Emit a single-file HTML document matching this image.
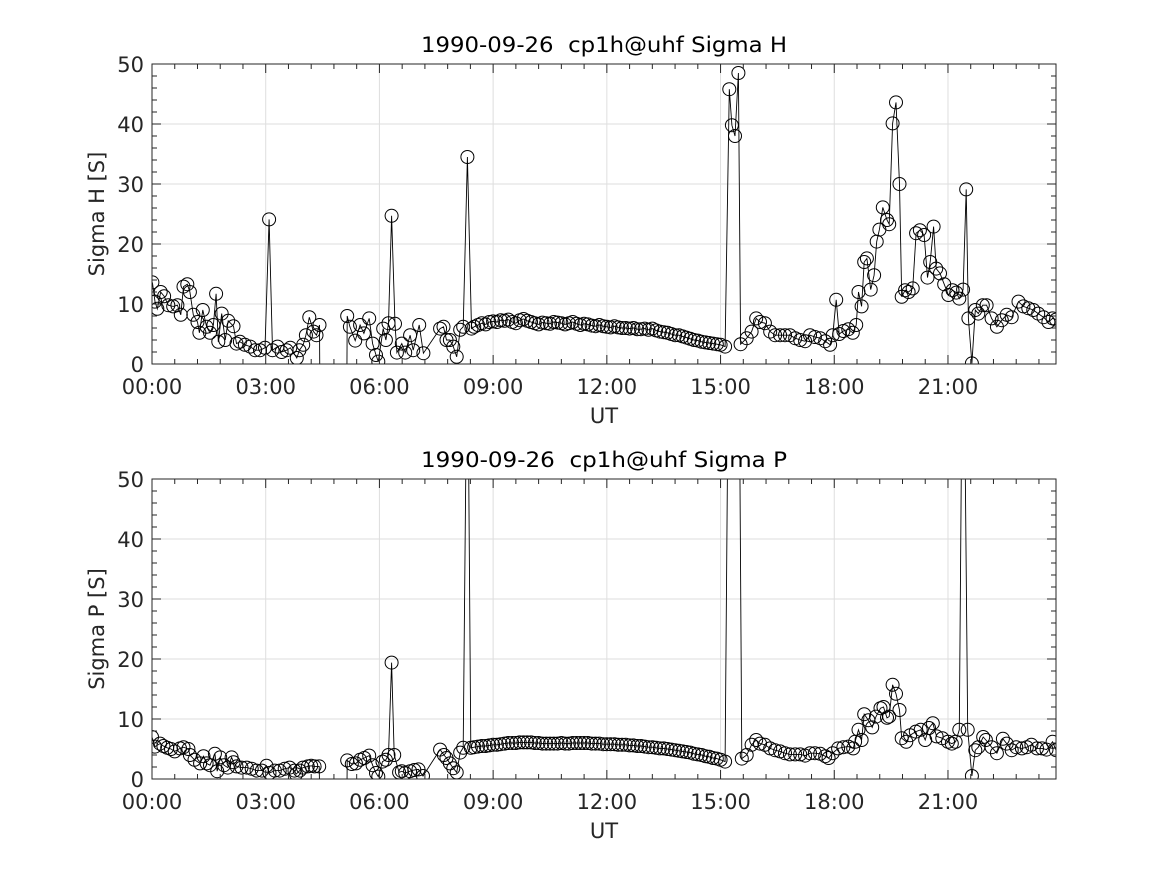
<!DOCTYPE html>
<html><head><meta charset="utf-8"><title>Sigma H / Sigma P</title>
<style>
html,body{margin:0;padding:0;background:#fff;}
svg{display:block;font-family:"DejaVu Sans","Liberation Sans",sans-serif;}
</style></head>
<body>
<svg id="fig" width="1167" height="875" viewBox="0 0 1167 875"></svg>
<script>
// ---- data ----
const hTimes = [0.01,0.08,0.14,0.23,0.32,0.43,0.56,0.67,0.76,0.83,0.93,1.0,1.09,1.2,1.25,1.34,1.44,1.53,1.62,1.69,1.75,1.84,1.93,2.01,2.15,2.23,2.32,2.45,2.59,2.72,2.85,2.98,3.09,3.18,3.31,3.42,3.55,3.65,3.82,3.89,3.99,4.06,4.15,4.26,4.34,4.42,4.43,null,5.14,5.15,5.22,5.36,5.49,5.59,5.73,5.82,5.91,5.97,6.1,6.17,6.24,6.32,6.41,6.46,6.59,6.68,6.81,6.89,7.05,7.16,7.6,7.69,7.77,7.86,7.95,8.04,8.13,8.21,8.32,8.43,8.5,8.6,8.7,8.8,8.9,9.0,9.1,9.2,9.3,9.4,9.5,9.6,9.7,9.8,9.9,10.0,10.1,10.2,10.3,10.4,10.5,10.6,10.7,10.8,10.9,11.0,11.1,11.2,11.3,11.4,11.5,11.6,11.7,11.8,11.9,12.0,12.1,12.2,12.3,12.4,12.5,12.6,12.7,12.8,12.9,13.0,13.1,13.2,13.3,13.4,13.5,13.6,13.7,13.8,13.9,14.0,14.1,14.2,14.3,14.4,14.5,14.6,14.7,14.8,14.9,15.0,15.12,15.23,15.3,15.38,15.47,15.53,15.69,15.82,15.94,16.04,16.17,16.31,16.44,16.57,16.7,16.83,16.97,17.1,17.23,17.36,17.49,17.63,17.76,17.89,17.96,18.05,18.13,18.24,18.37,18.49,18.58,18.64,18.72,18.79,18.86,18.96,19.05,19.12,19.19,19.28,19.39,19.45,19.54,19.63,19.72,19.78,19.87,19.96,20.07,20.16,20.26,20.37,20.46,20.53,20.62,20.69,20.79,20.9,21.01,21.12,21.22,21.3,21.4,21.48,21.54,21.63,21.72,21.8,21.92,22.02,22.15,22.29,22.42,22.55,22.68,22.86,22.99,23.12,23.25,23.38,23.52,23.65,23.76,23.85];
const sigmaH = [13.6,10.4,9.2,12,11.3,9.8,9.6,9.8,8.2,12.9,13.3,12,8.2,7,5.2,9,6.2,5.2,6.5,11.7,3.7,8.4,4,7.2,6.3,3.4,3.7,3.2,2.9,2.3,2.3,2.7,24.1,2.3,2.9,2,2.3,2.7,1,2.3,3.2,4.8,7.8,5.4,4.8,6.5,-5,null,-5,8,6.2,3.9,6.5,5.1,7.6,3.4,1.5,0.4,5.9,4,6.8,24.7,6.7,1.9,3.4,1.9,4.8,2.3,6.5,1.8,5.9,6.2,4,4,2.9,1.2,5.7,6.2,34.5,5.9,6.2,6.5,6.8,6.6,7,7.1,7,7.3,7.2,7.4,7,6.8,7.3,7.5,7.2,7,6.8,6.6,6.9,6.8,6.7,7,6.9,6.8,6.6,6.8,7,6.7,6.5,6.7,6.6,6.4,6.3,6.5,6.3,6.2,6.1,6.3,6.1,6,6,5.9,6,5.8,5.8,5.9,5.7,5.9,5.6,5.4,5.3,5.2,5,4.8,4.8,4.6,4.4,4.2,4,3.9,3.7,3.6,3.5,3.4,3.3,3.2,2.9,45.8,39.8,38,48.5,3.3,4.3,5.4,7.6,7,6.8,5.4,4.8,4.8,4.8,4.8,4.3,4,3.8,4.8,4.5,4.3,3.8,3.2,4.8,10.7,5,5.5,5.8,5.2,6.5,12,9.6,17,17.6,12.4,14.8,20.4,22.4,26.1,24,23.3,40.1,43.6,30,11.2,12.3,12,12.6,21.8,22.3,21.5,14.4,17,22.9,15.9,15.1,13.3,11.5,12.3,11.9,10.9,12.4,29.1,7.6,0.1,9,8.4,9.8,9.8,7.6,6.2,7.3,8.2,7.8,10.4,9.6,9.3,9,8.4,7.8,7,7.6,7.4];
const pTimes = [0,0.08,0.21,0.3,0.4,0.5,0.6,0.74,0.83,0.96,1.0,1.12,1.27,1.36,1.44,1.53,1.66,1.72,1.8,1.9,2.0,2.1,2.15,2.23,2.36,2.5,2.63,2.76,2.9,3.02,3.1,3.24,3.37,3.5,3.63,3.76,3.8,3.9,3.98,4.11,4.2,4.29,4.41,4.43,null,5.14,5.15,5.27,5.38,5.49,5.6,5.73,5.82,5.91,5.97,6.08,6.17,6.24,6.32,6.39,6.52,6.59,6.68,6.81,6.92,7.03,7.15,7.6,7.7,7.77,7.86,7.95,8.04,8.13,8.21,8.32,8.41,8.5,8.6,8.7,8.8,8.9,9.0,9.1,9.2,9.3,9.4,9.5,9.6,9.7,9.8,9.9,10.0,10.1,10.2,10.3,10.4,10.5,10.6,10.7,10.8,10.9,11.0,11.1,11.2,11.3,11.4,11.5,11.6,11.7,11.8,11.9,12.0,12.1,12.2,12.3,12.4,12.5,12.6,12.7,12.8,12.9,13.0,13.1,13.2,13.3,13.4,13.5,13.6,13.7,13.8,13.9,14.0,14.1,14.2,14.3,14.4,14.5,14.6,14.7,14.8,14.9,15.0,15.12,15.23,15.3,15.38,15.47,15.56,15.69,15.82,15.94,16.04,16.17,16.31,16.44,16.57,16.7,16.83,16.97,17.1,17.23,17.36,17.49,17.63,17.76,17.85,17.96,18.1,18.24,18.37,18.5,18.55,18.64,18.72,18.79,18.9,19.0,19.1,19.22,19.3,19.39,19.45,19.54,19.63,19.72,19.78,19.9,20.0,20.15,20.28,20.4,20.5,20.6,20.7,20.85,21.0,21.1,21.2,21.3,21.4,21.52,21.63,21.72,21.8,21.93,22.0,22.15,22.29,22.45,22.55,22.68,22.8,22.95,23.08,23.2,23.35,23.48,23.6,23.76,23.85];
const sigmaP = [7,5.4,5.9,5.5,5.2,5,4.6,5.1,5.3,5,4,3.2,2.6,3.8,2.6,2.3,4.2,1.3,3.6,2.3,1.9,3.6,2.8,2.1,1.9,1.9,1.7,1.4,1.4,2.2,1,1.4,1.4,1.7,1.9,1.4,0.8,1.4,1.9,2.1,2.2,2.1,2.1,-5,null,-5,3.1,2.5,2.6,3.2,3.5,3.9,2.3,1,0.4,2.9,3.2,4,19.4,4,1.1,1.3,1,1.3,1.5,1.6,0.5,4.9,4,3.5,2.6,1.8,1.1,4.4,5.2,80,5.2,5.3,5.4,5.5,5.5,5.6,5.7,5.7,5.8,5.9,6.0,6.0,6.0,6.1,6.1,6.1,6.1,6.0,6.0,5.9,5.9,5.9,5.9,5.9,6.0,5.9,5.9,6.0,6.0,6.0,6.0,6.0,5.9,5.9,5.9,5.8,5.8,5.8,5.8,5.7,5.7,5.7,5.6,5.6,5.5,5.5,5.4,5.3,5.3,5.2,5.1,5.1,5.0,4.9,4.8,4.7,4.6,4.5,4.4,4.2,4.1,4.0,3.8,3.7,3.5,3.4,3.2,2.9,90,80,80,90,3.4,4,5.7,6.5,5.9,5.7,5.1,4.8,4.6,4.3,4.1,4.1,4.1,3.9,4.3,4.3,4.2,3.8,3.5,4.3,5.1,5.3,5.4,5.1,6.2,8.2,6.5,10.8,9.8,8.6,10.4,11.8,12,10.2,10.4,15.7,14.2,11.5,6.8,6.2,7.3,7.9,8.2,6.5,8.5,9.3,7.1,6.8,6.2,5.9,6.2,8.2,90,8.2,0.5,4.8,5.3,7,6.5,5.3,4.3,6.7,5.9,4.8,5.3,5.1,5.3,5.7,5.1,5.1,4.9,6.2,4.8];
const xTickLabels = ["00:00","03:00","06:00","09:00","12:00","15:00","18:00","21:00"];
const yTickLabels = ["0","10","20","30","40","50"];

// ---- layout ----
const NS="http://www.w3.org/2000/svg";
const svg=document.getElementById('fig');
const X0=152, X1=1056, TMAX=23.85;
const FS=21;
function xs(h){return X0+(h/TMAX)*(X1-X0);}
function mk(tag,attrs,parent){const e=document.createElementNS(NS,tag);for(const k in attrs)e.setAttribute(k,attrs[k]);(parent||svg).appendChild(e);return e;}

function panel(id,top,bottom,times,vals,title,ylabel){
  const g=mk('g',{});
  
  
  const ys=v=>bottom-(v/50)*(bottom-top);
  for(let i=0;i<xTickLabels.length;i++){const x=xs(i*3);const l=mk('line',{x1:x,x2:x,y1:top,y2:bottom,stroke:'#dedede','stroke-width':1},g);}
  for(let i=0;i<yTickLabels.length;i++){const y=ys(+yTickLabels[i]);const l=mk('line',{x1:X0,x2:X1,y1:y,y2:y,stroke:'#dedede','stroke-width':1},g);}
  const cp=mk('clipPath',{id:'clip-'+id},g);mk('rect',{x:X0,y:top,width:X1-X0,height:bottom-top},cp);
  const dg=mk('g',{'clip-path':'url(#clip-'+id+')'},g);
  
  
  let d='',pen=false;
  for(let i=0;i<times.length;i++){
    if(times[i]===null||vals[i]===null){pen=false;continue;}
    d+=(pen?'L':'M')+xs(times[i]).toFixed(1)+' '+ys(vals[i]).toFixed(1);pen=true;
  }
  const path=mk('path',{d:d,fill:'none',stroke:'#000','stroke-width':0.9},dg);
  
  
  for(let i=0;i<times.length;i++){
    if(times[i]===null||vals[i]===null)continue;
    if(vals[i]<0)continue;
    const c=mk('circle',{cx:xs(times[i]).toFixed(1),cy:ys(vals[i]).toFixed(1),r:6.5,fill:'none',stroke:'#000','stroke-width':1},dg);
    
    
  }
  const tk=mk('g',{stroke:'#262626','stroke-width':1},g);
  
  
  for(let h=0;h<=TMAX+1e-6;h+=0.6){
    const x=xs(h);const major=Math.abs(h/3-Math.round(h/3))<1e-6;const L=major?9:5;
    mk('line',{x1:x,x2:x,y1:bottom,y2:bottom-L},tk);mk('line',{x1:x,x2:x,y1:top,y2:top+L},tk);
  }
  for(let v=0;v<=50;v+=2){
    const y=ys(v);const L=(v%10===0)?9:5;
    mk('line',{x1:X0,x2:X0+L,y1:y,y2:y},tk);mk('line',{x1:X1,x2:X1-L,y1:y,y2:y},tk);
  }
  const box=mk('rect',{x:X0,y:top,width:X1-X0,height:bottom-top,fill:'none',stroke:'#262626','stroke-width':1},g);
  
  
  for(let i=0;i<xTickLabels.length;i++){
    const t=mk('text',{x:xs(i*3),y:bottom+30,'text-anchor':'middle','font-size':FS,fill:'#262626'},g);
    t.textContent=xTickLabels[i];
    
    
  }
  for(let i=0;i<yTickLabels.length;i++){
    const t=mk('text',{x:X0-8,y:ys(+yTickLabels[i])+8,'text-anchor':'end','font-size':FS,fill:'#262626'},g);
    t.textContent=yTickLabels[i];
    
    
  }
  const xt=mk('text',{x:604,y:bottom+59,'text-anchor':'middle','font-size':FS,fill:'#262626'},g);
  xt.textContent='UT';
  
  
  const cy=(top+bottom)/2;
  const yt=mk('text',{x:104,y:cy,'text-anchor':'middle','font-size':FS,fill:'#262626',transform:'rotate(-90 104 '+cy+')'},g);
  yt.textContent=ylabel;
  
  
  const tt=mk('text',{x:421,y:top-12,'text-anchor':'start','font-size':FS,fill:'#000',textLength:366,lengthAdjust:'spacingAndGlyphs'},g);
  tt.setAttribute('xml:space','preserve');
  tt.style.whiteSpace='pre';
  tt.textContent=title;
  
  
}
panel('sigma-h',64,364,hTimes,sigmaH,'1990-09-26  cp1h@uhf Sigma H','Sigma H [S]');
panel('sigma-p',479,779,pTimes,sigmaP,'1990-09-26  cp1h@uhf Sigma P','Sigma P [S]');
</script>
</body></html>
